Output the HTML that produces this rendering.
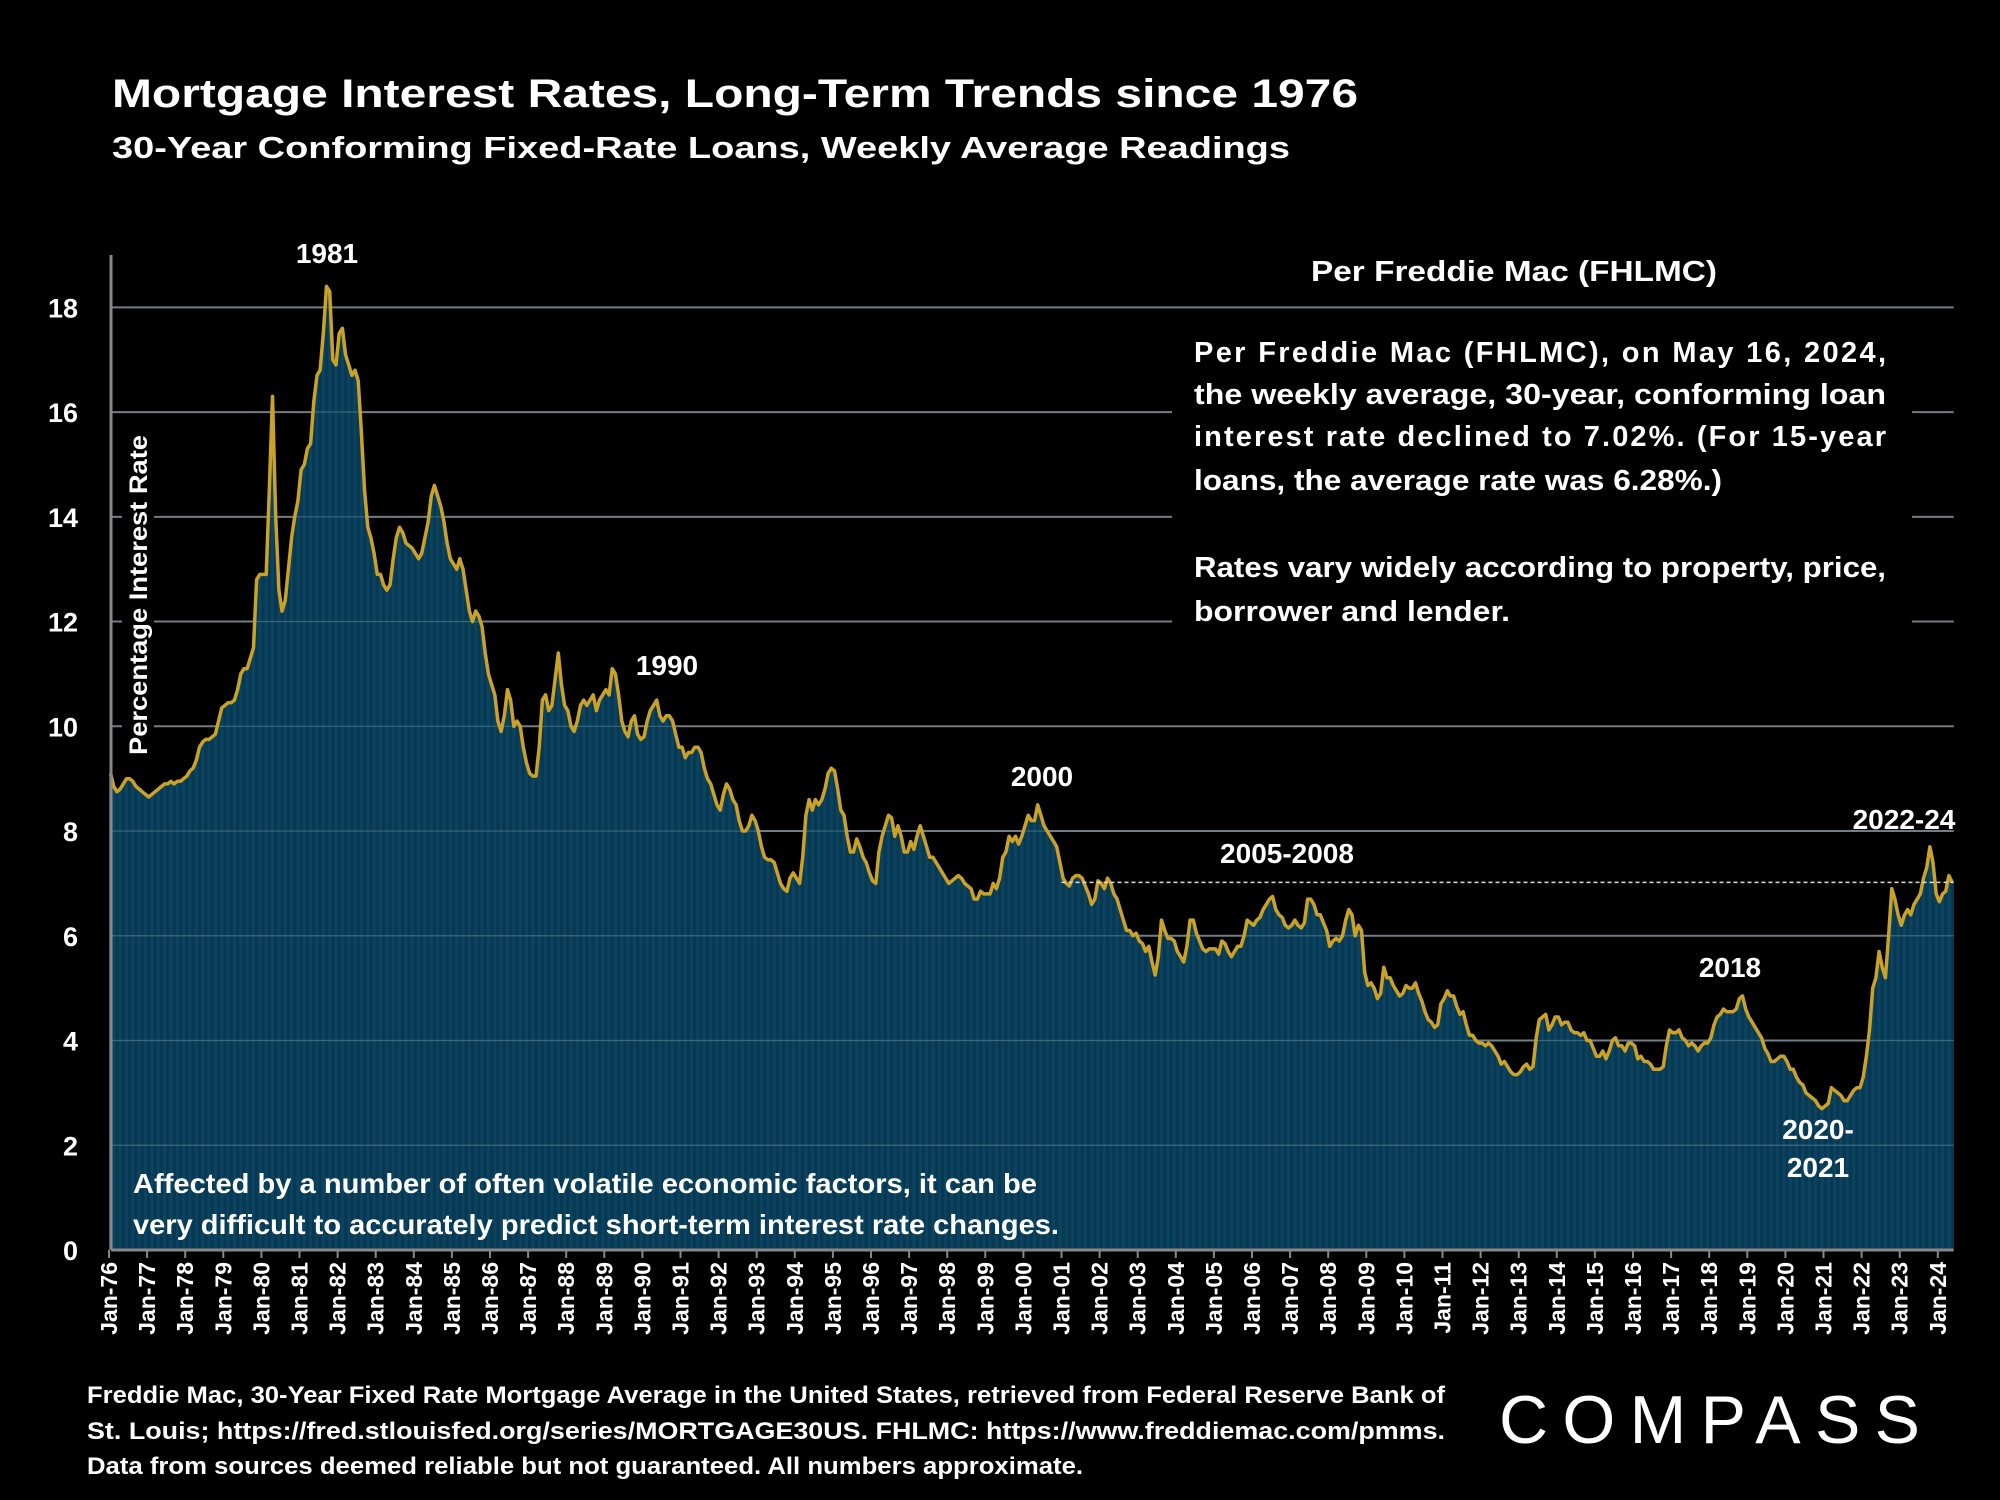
<!DOCTYPE html>
<html><head><meta charset="utf-8"><style>
html,body{margin:0;padding:0;background:#000;}
svg{display:block;font-family:"Liberation Sans",sans-serif;}
</style></head><body>
<svg id="chart" width="2000" height="1500" viewBox="0 0 2000 1500" xmlns="http://www.w3.org/2000/svg">
<rect x="0" y="0" width="2000" height="1500" fill="#000"/>
<text x="112" y="107" fill="#fff" font-size="40" font-weight="bold" textLength="1246" lengthAdjust="spacingAndGlyphs">Mortgage Interest Rates, Long-Term Trends since 1976</text>
<text x="112" y="158" fill="#fff" font-size="31" font-weight="bold" textLength="1178" lengthAdjust="spacingAndGlyphs">30-Year Conforming Fixed-Rate Loans, Weekly Average Readings</text>
<g id="grid"></g>
<g id="bars"></g>
<g id="overlay"></g>
</svg>
<script>
const startYear = 1976;
const yTicks = [0,2,4,6,8,10,12,14,16,18];
const xTickYears = [];
for (let y = 1976; y <= 2024; y++) xTickYears.push(y);
const rates = [
9.1,8.85,8.75,8.8,8.9,9.0,9.0,8.95,8.85,8.8,8.75,8.7,
8.65,8.7,8.75,8.8,8.85,8.9,8.9,8.95,8.9,8.95,8.95,9.0,
9.05,9.15,9.2,9.35,9.6,9.7,9.75,9.75,9.8,9.85,10.1,10.35,
10.4,10.45,10.45,10.5,10.7,11.0,11.1,11.1,11.3,11.5,12.8,12.9,
12.9,12.9,14.5,16.3,14.0,12.6,12.2,12.4,13.0,13.6,14.0,14.3,
14.9,15.0,15.3,15.4,16.2,16.7,16.8,17.5,18.4,18.3,17.0,16.9,
17.5,17.6,17.1,16.9,16.7,16.8,16.6,15.6,14.5,13.8,13.6,13.3,
12.9,12.9,12.7,12.6,12.7,13.2,13.6,13.8,13.7,13.5,13.45,13.4,
13.3,13.2,13.3,13.6,13.9,14.4,14.6,14.4,14.2,13.9,13.5,13.2,
13.1,13.0,13.2,13.0,12.6,12.2,12.0,12.2,12.1,11.9,11.4,11.0,
10.8,10.6,10.1,9.9,10.2,10.7,10.5,10.0,10.1,10.0,9.6,9.3,
9.1,9.05,9.05,9.6,10.5,10.6,10.3,10.4,10.9,11.4,10.8,10.4,
10.3,10.0,9.9,10.1,10.4,10.5,10.4,10.5,10.6,10.3,10.5,10.6,
10.7,10.6,11.1,11.0,10.6,10.1,9.9,9.8,10.1,10.2,9.85,9.75,
9.8,10.1,10.3,10.4,10.5,10.2,10.1,10.2,10.2,10.1,9.85,9.6,
9.6,9.4,9.5,9.5,9.6,9.6,9.5,9.2,9.0,8.9,8.7,8.5,
8.4,8.7,8.9,8.8,8.6,8.5,8.2,8.0,8.0,8.1,8.3,8.2,
8.0,7.7,7.5,7.45,7.45,7.4,7.2,7.0,6.9,6.85,7.1,7.2,
7.1,7.0,7.5,8.3,8.6,8.4,8.6,8.5,8.6,8.8,9.1,9.2,
9.15,8.8,8.4,8.3,7.9,7.6,7.6,7.85,7.7,7.5,7.4,7.2,
7.05,7.0,7.6,7.9,8.1,8.3,8.25,7.9,8.1,7.9,7.6,7.6,
7.8,7.65,7.9,8.1,7.9,7.7,7.5,7.5,7.4,7.3,7.2,7.1,
7.0,7.05,7.1,7.15,7.1,7.0,6.95,6.9,6.7,6.7,6.85,6.8,
6.8,6.8,7.0,6.9,7.1,7.5,7.6,7.9,7.8,7.9,7.75,7.9,
8.1,8.3,8.2,8.2,8.5,8.3,8.1,8.0,7.9,7.8,7.7,7.4,
7.1,7.0,6.95,7.1,7.15,7.15,7.1,6.95,6.8,6.6,6.7,7.05,
7.0,6.9,7.1,7.0,6.8,6.7,6.5,6.3,6.1,6.1,6.0,6.05,
5.9,5.85,5.7,5.8,5.5,5.25,5.6,6.3,6.1,5.95,5.95,5.9,
5.7,5.6,5.5,5.8,6.3,6.3,6.05,5.9,5.75,5.7,5.75,5.75,
5.75,5.65,5.9,5.85,5.7,5.6,5.7,5.8,5.8,6.0,6.3,6.25,
6.2,6.3,6.35,6.5,6.6,6.7,6.75,6.5,6.4,6.35,6.2,6.15,
6.2,6.3,6.2,6.15,6.25,6.7,6.7,6.6,6.4,6.4,6.25,6.1,
5.8,5.9,5.95,5.9,6.0,6.3,6.5,6.4,6.0,6.2,6.1,5.3,
5.05,5.1,5.0,4.8,4.9,5.4,5.2,5.2,5.05,4.95,4.85,4.9,
5.05,5.0,5.0,5.1,4.9,4.75,4.55,4.4,4.35,4.25,4.3,4.7,
4.8,4.95,4.85,4.85,4.65,4.5,4.55,4.3,4.1,4.1,4.0,3.95,
3.95,3.9,3.95,3.9,3.8,3.7,3.55,3.6,3.5,3.4,3.35,3.35,
3.4,3.5,3.55,3.45,3.5,4.05,4.4,4.45,4.5,4.2,4.3,4.45,
4.45,4.3,4.35,4.35,4.2,4.15,4.15,4.1,4.15,4.0,4.0,3.85,
3.7,3.7,3.8,3.65,3.8,4.0,4.05,3.9,3.9,3.8,3.95,3.95,
3.9,3.65,3.7,3.6,3.6,3.55,3.45,3.45,3.45,3.5,3.9,4.2,
4.15,4.15,4.2,4.05,4.0,3.9,3.95,3.9,3.8,3.9,3.95,3.95,
4.05,4.3,4.45,4.5,4.6,4.55,4.55,4.55,4.6,4.8,4.85,4.6,
4.45,4.35,4.25,4.15,4.05,3.85,3.75,3.6,3.6,3.65,3.7,3.7,
3.6,3.45,3.45,3.3,3.2,3.15,3.0,2.95,2.9,2.85,2.75,2.7,
2.75,2.8,3.1,3.05,3.0,2.95,2.85,2.85,2.95,3.05,3.1,3.1,
3.3,3.7,4.2,5.0,5.2,5.7,5.4,5.2,6.0,6.9,6.7,6.4,
6.2,6.4,6.5,6.4,6.6,6.7,6.8,7.1,7.3,7.7,7.4,6.8,
6.65,6.8,6.85,7.15,7.02
];
const latestRate = [7.02];

const NS = "http://www.w3.org/2000/svg";
const X0 = 109, PX_PER_YEAR = 38.1, Y0 = 1250, PX_PER_UNIT = 52.37;
function xScale(t){ return X0 + (t - startYear) * PX_PER_YEAR; }
function yScale(v){ return Y0 - v * PX_PER_UNIT; }
function mk(tag, attrs, parent){ const e=document.createElementNS(NS,tag); for(const k in attrs) e.setAttribute(k,attrs[k]); parent.appendChild(e); return e; }
const grid=document.getElementById('grid'), bars=document.getElementById('bars'), ov=document.getElementById('overlay');
const xEnd = xScale(startYear + rates.length/12);

yTicks.forEach(v=>{
  if(v===0) return;
  const l=mk('line',{x1:111,x2:xEnd,y1:yScale(v),y2:yScale(v),stroke:'#7a7a7a','stroke-width':2},grid);
  
  
});
const bw = PX_PER_YEAR/12;
rates.forEach((r,i)=>{
  const x=xScale(startYear+i/12);
  const b=mk('rect',{x:x,y:yScale(r),width:bw+0.2,height:Y0-yScale(r),fill:(i%2?'#0b4360':'#083952')},bars);
  
  
});
yTicks.forEach(v=>{ if(v===0) return; mk('line',{x1:111,x2:xEnd,y1:yScale(v),y2:yScale(v),stroke:'#5f8595','stroke-width':1.2,'stroke-opacity':0.6},bars); });
let d='';
rates.forEach((r,i)=>{ d+=(i?'L':'M')+xScale(startYear+i/12+bw/PX_PER_YEAR/2).toFixed(1)+','+yScale(r).toFixed(1); });
const ln=mk('path',{d:d,fill:'none',stroke:'#c9a227','stroke-width':3.5,'stroke-linejoin':'round'},ov);


const dl=mk('line',{x1:xScale(2001),x2:xEnd,y1:yScale(latestRate[0]),y2:yScale(latestRate[0]),stroke:'#ddd','stroke-width':1.5,'stroke-dasharray':'4,3'},ov);


const ya=mk('line',{x1:111,x2:111,y1:255,y2:Y0,stroke:'#888','stroke-width':3},ov);


const xa=mk('line',{x1:111,x2:xEnd,y1:Y0,y2:Y0,stroke:'#888','stroke-width':3},ov);


yTicks.forEach(v=>{
  const t=mk('text',{x:78,y:yScale(v)+10,fill:'#fff','font-size':27,'font-weight':'bold','text-anchor':'end'},ov);
  t.textContent=v;
  
  
});
xTickYears.forEach(y=>{
  const x=xScale(y);
  mk('line',{x1:x,x2:x,y1:Y0,y2:Y0+8,stroke:'#888','stroke-width':2},ov);
  const t=mk('text',{x:0,y:0,fill:'#fff','font-size':23,'font-weight':'bold','text-anchor':'end',transform:`translate(${x+8},${Y0+12}) rotate(-90)`},ov);
  t.textContent='Jan-'+String(y).slice(2);
  
  
});
</script>
<svg style="position:absolute;left:0;top:0" width="2000" height="1500" xmlns="http://www.w3.org/2000/svg" font-family="Liberation Sans, sans-serif" font-weight="bold" fill="#fff">
<rect x="122" y="420" width="32" height="330" fill="#000"/>
<text transform="translate(147,755) rotate(-90)" font-size="25" textLength="320" lengthAdjust="spacingAndGlyphs">Percentage Interest  Rate</text>
<rect x="1172" y="318" width="740" height="312" fill="#000"/>
<text x="1514" y="281" font-size="29" text-anchor="middle" textLength="406" lengthAdjust="spacingAndGlyphs">Per Freddie Mac (FHLMC)</text>
<g font-size="29">
<text x="1194" y="362" textLength="692" lengthAdjust="spacing">Per Freddie Mac (FHLMC), on May 16, 2024,</text>
<text x="1194" y="404" textLength="692" lengthAdjust="spacingAndGlyphs">the weekly average, 30-year, conforming loan</text>
<text x="1194" y="446" textLength="692" lengthAdjust="spacing">interest rate declined to 7.02%. (For 15-year</text>
<text x="1194" y="490" textLength="528" lengthAdjust="spacingAndGlyphs">loans, the average rate was 6.28%.)</text>
<text x="1194" y="577" textLength="692" lengthAdjust="spacingAndGlyphs">Rates vary widely according to property, price,</text>
<text x="1194" y="621" textLength="316" lengthAdjust="spacingAndGlyphs">borrower and lender.</text>
</g>
<g font-size="28" text-anchor="middle">
<text x="327" y="263">1981</text>
<text x="667" y="675">1990</text>
<text x="1042" y="786">2000</text>
<text x="1287" y="863">2005-2008</text>
<text x="1730" y="977">2018</text>
<text x="1818" y="1139">2020-</text>
<text x="1818" y="1177">2021</text>
<text x="1904" y="829">2022-24</text>
</g>
<g font-size="28">
<text x="133" y="1193" textLength="904" lengthAdjust="spacingAndGlyphs">Affected by a number of often volatile economic factors, it can be</text>
<text x="133" y="1234" textLength="926" lengthAdjust="spacingAndGlyphs">very difficult to accurately predict short-term interest rate changes.</text>
</g>
<g font-size="24">
<text x="87" y="1403" textLength="1358" lengthAdjust="spacingAndGlyphs">Freddie Mac, 30-Year Fixed Rate Mortgage Average in the United States, retrieved from Federal Reserve Bank of</text>
<text x="87" y="1439" textLength="1358" lengthAdjust="spacingAndGlyphs">St.  Louis;  https://fred.stlouisfed.org/series/MORTGAGE30US.  FHLMC:  https://www.freddiemac.com/pmms.</text>
<text x="87" y="1474" textLength="996" lengthAdjust="spacingAndGlyphs">Data from sources deemed reliable but not guaranteed. All numbers approximate.</text>
</g>
<text x="1499" y="1443" font-size="68" font-weight="normal" textLength="421" lengthAdjust="spacing">COMPASS</text>
</svg>
</body></html>
